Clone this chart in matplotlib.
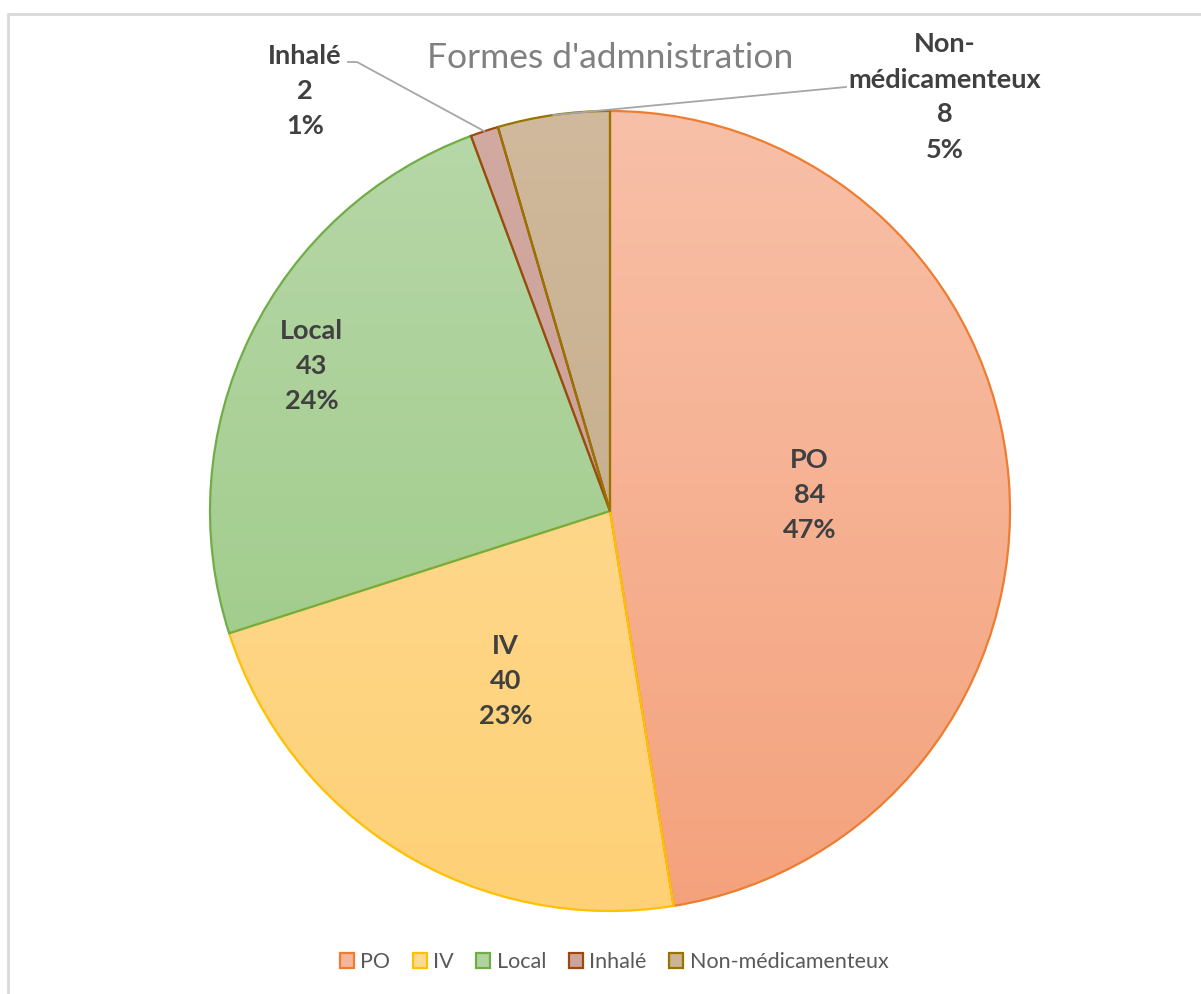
import numpy as np
import matplotlib
matplotlib.use("Agg")
import matplotlib.pyplot as plt
from matplotlib.patches import Patch

plt.rcParams['font.family'] = ['Lato', 'DejaVu Sans']

# data
labels = ["PO", "IV", "Local", "Inhalé", "Non-médicamenteux"]
label_text = ["PO", "IV", "Local", "Inhalé", "Non-\nmédicamenteux"]
values = [84, 40, 43, 2, 8]

# styles: edge, gradient top, gradient bottom
edge_colors = ["#ED7D31", "#FFC000", "#70AD47", "#9E480E", "#997300"]
top_colors = ["#F8C0A8", "#FEDD9F", "#B7D7A8", "#D2AAA2", "#D0B99C"]
bottom_colors = ["#F4A27C", "#FED176", "#98C880", "#C79990", "#C0A884"]
legend_fill = ["#F6B49A", "#FEDA94", "#B0D3A0", "#CDA39A", "#CBB394"]

W, H = 1201, 994
cx, cy, r = 610, H - 511, 400

fig = plt.figure(figsize=(W / 100, H / 100), dpi=100)
ax = fig.add_axes([0, 0, 1, 1])

wedges, _ = ax.pie(values, startangle=90, counterclock=False,
                   center=(cx, cy), radius=r,
                   wedgeprops=dict(linewidth=1.6, zorder=3))
ax.set_xlim(0, W)
ax.set_ylim(0, H)
ax.set_aspect('equal')
ax.axis('off')


def hex2rgb(h):
    return np.array(matplotlib.colors.to_rgb(h))


# vertical gradient fill clipped to each wedge
t = np.linspace(0, 1, 256)[:, None]
for w, ec, top, bot in zip(wedges, edge_colors, top_colors, bottom_colors):
    w.set_facecolor('none')
    w.set_edgecolor(ec)
    grad = hex2rgb(bot)[None, None, :] * (1 - t[..., None]) + hex2rgb(top)[None, None, :] * t[..., None]
    im = ax.imshow(grad, extent=(cx - r, cx + r, cy - r, cy + r), origin='lower',
                   aspect='auto', zorder=2, interpolation='bilinear')
    im.set_clip_path(w)

total = sum(values)
inside_frac = [0.5, 0.5, 0.83]
txt_kw = dict(ha='center', va='center', fontsize=19.5, fontweight='bold',
              color='#404040', linespacing=1.55, zorder=5)

for i, w in enumerate(wedges):
    mid = np.deg2rad((w.theta1 + w.theta2) / 2)
    pct = round(values[i] / total * 100)
    s = f"{label_text[i]}\n{values[i]}\n{pct}%"
    if i < len(inside_frac):
        f = inside_frac[i]
        ax.text(cx + f * r * np.cos(mid), cy + f * r * np.sin(mid), s, **txt_kw)
    else:
        # outside labels with leader lines
        ex, ey = cx + r * np.cos(mid), cy + r * np.sin(mid)
        if labels[i] == "Inhalé":
            ax.text(305, H - 91, s, **txt_kw)
            ax.plot([ex, 357, 348], [ey, H - 62, H - 62], color='#A6A6A6', lw=1.3, zorder=4)
        else:
            ax.text(945, H - 97, s, **txt_kw)
            ax.plot([ex, 846], [ey, H - 87], color='#A6A6A6', lw=1.3, zorder=4)

ax.text(610, H - 58, "Formes d'admnistration", ha='center', va='center',
        fontsize=25.5, color='#808080', zorder=5)

# chart area border (left and top visible)
ax.plot([8, 8, W], [0, H - 14, H - 14], color='#D9D9D9', lw=2, zorder=1)

handles = [Patch(facecolor=fc, edgecolor=ec, linewidth=1.6)
           for fc, ec in zip(legend_fill, edge_colors)]
ax.legend(handles, labels, loc='center', bbox_to_anchor=(614 / W, 1 - 962 / H),
          ncol=5, frameon=False, fontsize=15.5, labelcolor='#595959',
          handlelength=0.65, handleheight=0.65, handletextpad=0.3,
          columnspacing=1.05)

fig.savefig("out.png", dpi=100)
